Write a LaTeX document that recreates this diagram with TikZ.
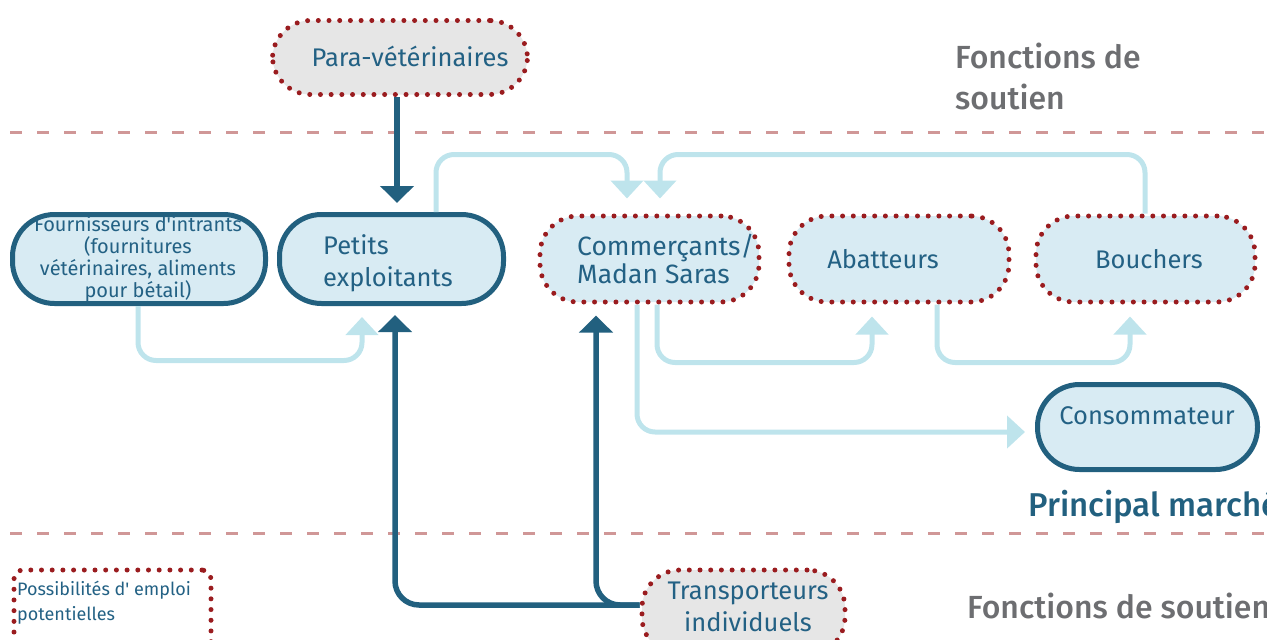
\documentclass[tikz,border=0pt]{standalone}
\usepackage{fontspec}
\setmainfont{Fira Sans}
\newfontfamily\medfont{Fira Sans Medium}
\newfontfamily\plainfont{Fira Sans}[Ligatures=ResetAll]
\usetikzlibrary{arrows.meta}

\definecolor{dkblue}{HTML}{22607F}
\definecolor{txtblue}{HTML}{236184}
\definecolor{ltfill}{HTML}{D8EBF3}
\definecolor{ltline}{HTML}{BEE4EC}
\definecolor{dotred}{HTML}{9A1C1F}
\definecolor{grayfill}{HTML}{E6E6E6}
\definecolor{sepline}{HTML}{D09797}
\definecolor{graytxt}{HTML}{6D6E71}

\tikzset{
  solidbox/.style={draw=dkblue, line width=5pt, fill=ltfill, rounded corners=42pt, inner sep=0pt},
  dotbox/.style={draw=dotred, line width=5pt, dash pattern=on 0pt off 10.7pt, line cap=round,
                 rounded corners=38pt, inner sep=0pt},
  lbl/.style={text=txtblue, inner sep=0pt, font=\fontsize{25.5}{32}\selectfont},
  small/.style={text=txtblue, inner sep=0pt, font=\plainfont\fontsize{20}{22}\selectfont},
  sidetxt/.style={text=graytxt, inner sep=0pt, align=left, font=\medfont\fontsize{32}{41}\selectfont},
  ltarrow/.style={draw=ltline, line width=5pt, rounded corners=18pt,
                  -{Triangle[width=32pt,length=18pt]}},
  dkarrow/.style={draw=dkblue, line width=5.5pt, rounded corners=24pt,
                  -{Triangle[width=33pt,length=17pt]}},
  sep/.style={draw=sepline, line width=3pt, dash pattern=on 12pt off 15pt}
}

\begin{document}
\begin{tikzpicture}[x=1pt,y=-1pt]
\useasboundingbox (0,0) rectangle (1267,640);
\clip (0,0) rectangle (1267,640);

% section separators
\draw[sep] (10,132) -- (1267,132);
\draw[sep] (10,533) -- (1267,533);

% side headings
\node[sidetxt, anchor=west] (hsup) at (955,76.5) {Fonctions de\\soutien};
\node[sidetxt, anchor=west] (hsup2) at (967,606) {Fonctions de soutien};
\node[anchor=west, inner sep=0pt, text=dkblue, font=\medfont\fontsize{33}{38}\selectfont]
  (hmarket) at (1028,507) {Principal marché};

% actors
\node[dotbox, fill=grayfill, minimum width=255pt, minimum height=74pt] (para) at (400,57.5) {};
\node[lbl] (parat) at (410,56) {Para-vétérinaires};

\node[solidbox, minimum width=253pt, minimum height=89pt] (fourn) at (139,259) {};
\node[small, align=center] (fournt) at (138,259)
  {Fournisseurs d'intrants\\(fournitures\\vétérinaires, aliments\\pour bétail)};

\node[solidbox, minimum width=224pt, minimum height=89pt] (petits) at (391.5,259) {};
\node[lbl, align=left, anchor=west] (petitst) at (323,263) {Petits\\exploitants};

\node[dotbox, fill=ltfill, minimum width=219pt, minimum height=86pt] (comm) at (649.5,259) {};
\node[lbl, align=left, anchor=west, font=\fontsize{26.5}{26}\selectfont] (commt) at (577,259)
  {Commerçants/\\Madan Saras};

\node[dotbox, fill=ltfill, minimum width=220pt, minimum height=86pt] (abat) at (899,259) {};
\node[lbl] (abatt) at (883,259) {Abatteurs};

\node[dotbox, fill=ltfill, minimum width=219pt, minimum height=86pt] (bouch) at (1145.5,259) {};
\node[lbl] (boucht) at (1149,259) {Bouchers};

\node[solidbox, minimum width=220pt, minimum height=85pt] (consum) at (1147.5,427) {};
\node[lbl] (consumt) at (1147,416) {Consommateur};

\node[dotbox, fill=grayfill, minimum width=203pt, minimum height=85pt] (trans) at (743.5,612.5) {};
\node[lbl, align=center] (transt) at (748,607) {Transporteurs\\individuels};

% legend
\node[dotbox, rounded corners=9pt, minimum width=197pt, minimum height=90pt] (legend) at (112.5,615) {};
\node[small, align=left, anchor=west, font=\plainfont\fontsize{18}{25}\selectfont] (legendt) at (17,602.5)
  {Possibilités d' emploi\\potentielles};

% product flows
\draw[ltarrow, shorten >=15pt] ([xshift=44.5pt]petits.north) -- ++(0,-57.5)
  -| ([xshift=-22.5pt]comm.north);
\draw[ltarrow, shorten >=15pt] ([xshift=-0.5pt]bouch.north) -- ++(0,-59)
  -| ([xshift=10.5pt]comm.north);
\draw[ltarrow, shorten >=11pt] ([xshift=-1pt]fourn.south) -- ++(0,54.5)
  -| ([xshift=-29.5pt]petits.south);
\draw[ltarrow, shorten >=12pt] ([xshift=7.5pt]comm.south) -- ++(0,58)
  -| ([xshift=-27pt]abat.south);
\draw[ltarrow, shorten >=12pt] ([xshift=38pt]abat.south) -- ++(0,58)
  -| ([xshift=-15.5pt]bouch.south);
\draw[ltarrow, shorten >=10pt] ([xshift=-12.5pt]comm.south)
  |- ([yshift=-5pt]consum.west);

% support services
\draw[dkarrow, shorten >=9pt] ([xshift=-3pt]para.south) -- ([xshift=-3pt]para.south |- petits.north);
\draw[dkarrow, shorten >=9pt] ([yshift=7.5pt]trans.west) -| ([xshift=3.5pt]petits.south);
\draw[dkarrow, shorten >=11pt] ([yshift=7.5pt]trans.west) -| ([xshift=-53.5pt]comm.south);
\end{tikzpicture}
\end{document}
